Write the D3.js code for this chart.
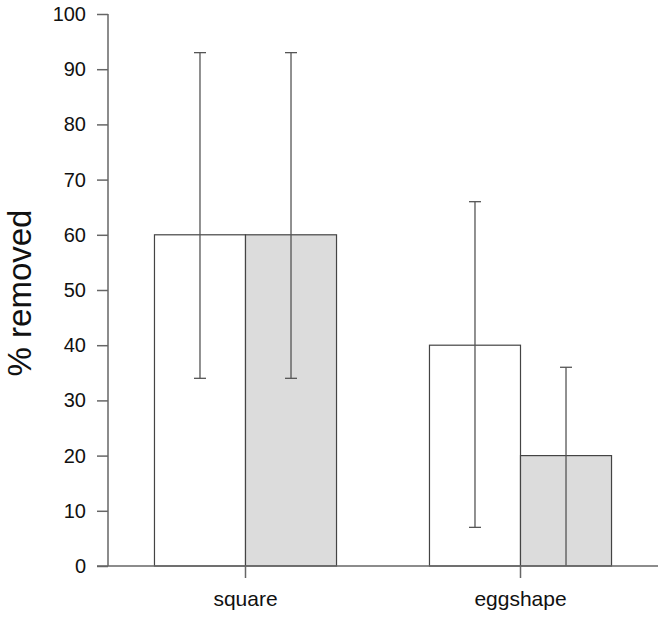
<!DOCTYPE html>
<html>
<head>
<meta charset="utf-8">
<script src="https://cdn.jsdelivr.net/npm/d3@7"></script>
<style>
  html, body { margin: 0; padding: 0; background: #fff; }
  svg { display: block; }
  text { font-family: "Liberation Sans", Arial, sans-serif; fill: #111; }
</style>
</head>
<body>
<svg id="chart" width="664" height="618"></svg>
<script>
const categories = ["square", "eggshape"];
const seriesNames = ["white", "gray"];
const whiteValues = [60, 40];
const grayValues = [60, 20];
const whiteLower = [34, 7];
const whiteUpper = [93, 66];
const grayLower = [34, 0];
const grayUpper = [93, 36];
const yTicks = [0, 10, 20, 30, 40, 50, 60, 70, 80, 90, 100];
const yLabel = "% removed";

const fills = { white: "#ffffff", gray: "#dcdcdc" };

const svg = d3.select("#chart");
const mLeft = 108, mRight = 658, mTop = 14, mBottom = 566;

const y = d3.scaleLinear().domain([0, 100]).range([mBottom, mTop]);
const x0 = d3.scaleBand().domain(categories).range([mLeft, mRight])
  .paddingInner(0.338).paddingOuter(0.169);
const x1 = d3.scaleBand().domain(seriesNames).range([0, x0.bandwidth()]).padding(0);

const data = [];
categories.forEach((c, i) => {
  data.push({ cat: c, s: "white", v: whiteValues[i], lo: whiteLower[i], hi: whiteUpper[i] });
  data.push({ cat: c, s: "gray", v: grayValues[i], lo: grayLower[i], hi: grayUpper[i] });
});

// bars
svg.append("g").selectAll("rect").data(data).join("rect")
  .attr("x", d => x0(d.cat) + x1(d.s))
  .attr("y", d => y(d.v))
  .attr("width", x1.bandwidth())
  .attr("height", d => y(0) - y(d.v))
  .attr("fill", d => fills[d.s])
  .attr("stroke", "#444")
  .attr("stroke-width", 1.2);

// error bars
const eb = svg.append("g").attr("stroke", "#555").attr("stroke-width", 1.3);
data.forEach(d => {
  const cx = x0(d.cat) + x1(d.s) + x1.bandwidth() / 2;
  eb.append("line").attr("x1", cx).attr("x2", cx).attr("y1", y(d.hi)).attr("y2", y(d.lo));
  eb.append("line").attr("x1", cx - 6).attr("x2", cx + 6).attr("y1", y(d.hi)).attr("y2", y(d.hi));
  if (d.lo > 0) eb.append("line").attr("x1", cx - 6).attr("x2", cx + 6).attr("y1", y(d.lo)).attr("y2", y(d.lo));
});

// y axis
const yAxis = svg.append("g").attr("transform", `translate(${mLeft},0)`)
  .call(d3.axisLeft(y).tickValues(yTicks).tickSize(11).tickPadding(11).tickFormat(d3.format("d")));
yAxis.select(".domain").attr("stroke", "#666").attr("stroke-width", 1.5).attr("d", `M0,${mTop}V${mBottom}`);
yAxis.selectAll(".tick line").attr("stroke", "#666").attr("stroke-width", 1.5);
yAxis.selectAll(".tick text").style("font-size", "20px").attr("fill", "#111");

// x axis
const xAxis = svg.append("g").attr("transform", `translate(0,${mBottom})`)
  .call(d3.axisBottom(x0).tickSize(12).tickPadding(13));
xAxis.select(".domain").attr("stroke", "#666").attr("stroke-width", 1.5).attr("d", `M${mLeft - 11},0H${mRight}`);
xAxis.selectAll(".tick line").attr("stroke", "#666").attr("stroke-width", 1.5);
xAxis.selectAll(".tick text").style("font-size", "21px").attr("fill", "#111");

// y label
svg.append("text")
  .attr("transform", `translate(31,293) rotate(-90)`)
  .attr("text-anchor", "middle")
  .style("font-size", "33px")
  .text(yLabel);
</script>
</body>
</html>
